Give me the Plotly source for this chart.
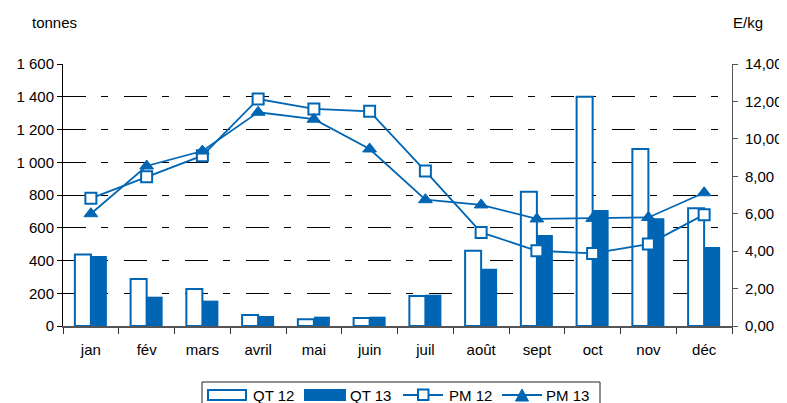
import plotly.graph_objects as go

months = ["jan", "fév", "mars", "avril", "mai", "juin", "juil", "août", "sept", "oct", "nov", "déc"]
qt12 = [436, 287, 226, 67, 41, 49, 183, 460, 820, 1400, 1081, 719]
qt13 = [427, 179, 155, 61, 57, 57, 191, 350, 556, 708, 658, 482]
pm12 = [6.82, 7.98, 9.10, 12.13, 11.60, 11.47, 8.28, 5.00, 4.02, 3.88, 4.38, 5.95]
pm13 = [6.00, 8.55, 9.35, 11.42, 11.05, 9.46, 6.75, 6.47, 5.72, 5.75, 5.80, 7.12]
legend_names = ["QT 12", "QT 13", "PM 12", "PM 13"]

BLUE = "#0066B3"
FONT = "Liberation Sans, Arial, sans-serif"

# plot area in screen pixels (page has an 8px body margin)
PX0, PX1, PY0, PY1 = 63, 732, 64, 326


def px(x):
    return (x - PX0) / (PX1 - PX0)


def py(y):
    return (PY1 - y) / (PY1 - PY0)


fig = go.Figure()
fig.add_trace(go.Bar(x=months, y=qt12, name=legend_names[0],
                     marker=dict(color="white", line=dict(color=BLUE, width=2))))
fig.add_trace(go.Bar(x=months, y=qt13, name=legend_names[1],
                     marker=dict(color=BLUE, line=dict(color=BLUE, width=0))))
fig.add_trace(go.Scatter(x=months, y=pm12, name=legend_names[2], yaxis="y2", mode="lines+markers",
                         line=dict(color=BLUE, width=1.8),
                         marker=dict(symbol="square", size=11, color="white",
                                     line=dict(color=BLUE, width=2))))
fig.add_trace(go.Scatter(x=months, y=pm13, name=legend_names[3], yaxis="y2", mode="lines+markers",
                         line=dict(color=BLUE, width=1.8),
                         marker=dict(symbol="triangle-up", size=12, color=BLUE,
                                     line=dict(color=BLUE, width=1))))

# custom legend (wide bar swatches as in the reference)
shapes = [
    dict(type="rect", xref="paper", yref="paper", x0=px(202), x1=px(600), y0=py(382), y1=py(420),
         line=dict(color="#222", width=1), fillcolor="white", layer="above"),
    dict(type="rect", xref="paper", yref="paper", x0=px(208), x1=px(246), y0=py(390), y1=py(400),
         line=dict(color=BLUE, width=2), fillcolor="white", layer="above"),
    dict(type="rect", xref="paper", yref="paper", x0=px(304), x1=px(346), y0=py(389), y1=py(401),
         line=dict(color=BLUE, width=0), fillcolor=BLUE, layer="above"),
    dict(type="line", xref="paper", yref="paper", x0=px(403), x1=px(443), y0=py(395), y1=py(395),
         line=dict(color=BLUE, width=1.8), layer="above"),
    dict(type="rect", xref="paper", yref="paper", x0=px(418), x1=px(428.5), y0=py(389.5), y1=py(400),
         line=dict(color=BLUE, width=2), fillcolor="white", layer="above"),
    dict(type="line", xref="paper", yref="paper", x0=px(502), x1=px(542), y0=py(395), y1=py(395),
         line=dict(color=BLUE, width=1.8), layer="above"),
    dict(type="path", xref="paper", yref="paper",
         path=f"M {px(515.5)},{py(401)} L {px(528.5)},{py(401)} L {px(522)},{py(389)} Z",
         line=dict(color=BLUE, width=1), fillcolor=BLUE, layer="above"),
]

legend_text_x = [251, 348, 447, 544]
annotations = [
    dict(text="tonnes", xref="paper", yref="paper", x=px(54.5), y=py(22.5),
         xanchor="center", yanchor="middle", showarrow=False, font=dict(size=15)),
    dict(text="E/kg", xref="paper", yref="paper", x=px(748), y=py(22.5),
         xanchor="center", yanchor="middle", showarrow=False, font=dict(size=15)),
]
for name, tx in zip(legend_names, legend_text_x):
    annotations.append(dict(text=name, xref="paper", yref="paper", x=px(tx), y=py(395),
                            xanchor="left", yanchor="middle", showarrow=False,
                            font=dict(size=15)))

fig.update_layout(
    width=787, height=403,
    margin=dict(l=55, r=63, t=56, b=85, autoexpand=False),
    paper_bgcolor="white", plot_bgcolor="white",
    font=dict(family=FONT, size=15, color="black"),
    separators=", ",
    barmode="group", bargap=0.426, bargroupgap=0,
    xaxis=dict(type="category", range=[-0.5, len(months) - 0.5], tickson="boundaries",
               ticks="outside", ticklen=6,
               tickcolor="#333", showline=True, linecolor="#555", linewidth=1.5,
               showgrid=False, ticklabelstandoff=9),
    yaxis=dict(range=[0, 1600], dtick=200, tickformat=",", showgrid=True,
               gridcolor="black", gridwidth=1, griddash="23px,15px,7px,16px",
               showline=True, linecolor="black", linewidth=1, ticks="outside",
               ticklen=5, tickcolor="black", zeroline=False),
    yaxis2=dict(range=[0, 14], dtick=2, tickformat=".2f", overlaying="y", side="right",
                showgrid=False, showline=True, linecolor="#555", linewidth=1,
                ticks="outside", ticklen=5, tickcolor="#555", zeroline=False,
                ticklabelstandoff=4),
    showlegend=False,
    shapes=shapes,
    annotations=annotations,
)

fig.write_html("out.html")
